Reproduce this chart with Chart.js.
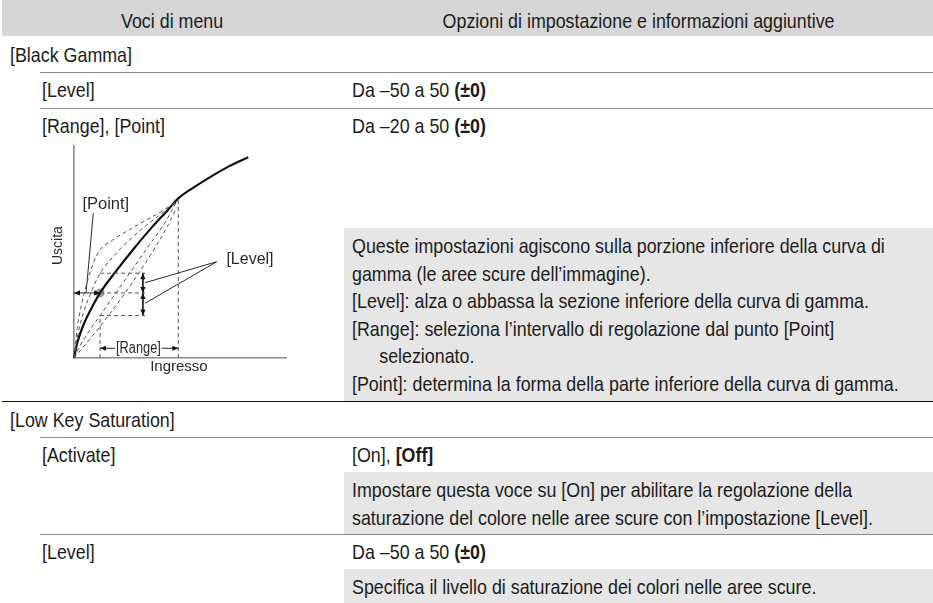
<!DOCTYPE html>
<html>
<head>
<meta charset="utf-8">
<script src="https://cdn.jsdelivr.net/npm/chart.js@4/dist/chart.umd.min.js"></script>
<style>
  html,body{margin:0;padding:0;background:#fff;}
  body{width:933px;height:603px;overflow:hidden;position:relative;
       font-family:"Liberation Sans",Arial,sans-serif;
       font-size:21px;color:#1c1c1c;}
  .t{position:absolute;white-space:nowrap;line-height:22px;transform:translateY(-50%);}
  .n{display:inline-block;transform:scaleX(0.85);transform-origin:0 50%;}
  .c .n{transform-origin:50% 50%;}
  .hdr{position:absolute;left:2px;top:0;width:931px;height:36px;background:#d6d6d6;}
  .ln{position:absolute;height:0;border-top:1.5px solid #8a8a8a;}
  .lnb{position:absolute;height:0;border-top:1.5px solid #111;}
  .box{position:absolute;background:#e6e6e6;box-sizing:border-box;padding:4px 0 0 8px;line-height:27.5px;white-space:nowrap;overflow:hidden;}
  .box .in{transform:scaleX(0.85);transform-origin:0 0;}
  b{font-weight:bold;}
  #dg{position:absolute;left:40px;top:130px;}
</style>
</head>
<body>
<div class="hdr"></div>
<div class="t c" style="left:0;width:344px;text-align:center;top:21px;"><span class="n">Voci di menu</span></div>
<div class="t c" style="left:344px;width:589px;text-align:center;top:21px;"><span class="n">Opzioni di impostazione e informazioni aggiuntive</span></div>

<div class="t" style="left:10px;top:55px;"><span class="n">[Black Gamma]</span></div>
<div class="ln" style="left:40px;width:893px;top:72px;"></div>
<div class="t" style="left:42px;top:90px;"><span class="n">[Level]</span></div>
<div class="t" style="left:352px;top:90px;"><span class="n">Da –50 a 50 <b>(±0)</b></span></div>
<div class="ln" style="left:40px;width:893px;top:108px;"></div>
<div class="t" style="left:42px;top:126px;"><span class="n">[Range], [Point]</span></div>
<div class="t" style="left:352px;top:126px;"><span class="n">Da –20 a 50 <b>(±0)</b></span></div>

<div class="box" style="left:344px;top:228px;width:589px;height:174px;"><div class="in">
Queste impostazioni agiscono sulla porzione inferiore della curva di<br>
gamma (le aree scure dell’immagine).<br>
[Level]: alza o abbassa la sezione inferiore della curva di gamma.<br>
[Range]: seleziona l’intervallo di regolazione dal punto [Point]<br>
<span style="padding-left:32px">selezionato.</span><br>
[Point]: determina la forma della parte inferiore della curva di gamma.
</div></div>
<div class="lnb" style="left:2px;width:931px;top:401px;"></div>

<div class="t" style="left:10px;top:420px;"><span class="n">[Low Key Saturation]</span></div>
<div class="ln" style="left:40px;width:893px;top:437px;"></div>
<div class="t" style="left:42px;top:455px;"><span class="n">[Activate]</span></div>
<div class="t" style="left:352px;top:455px;"><span class="n">[On], <b>[Off]</b></span></div>
<div class="box" style="left:344px;top:472px;width:589px;height:62px;"><div class="in">
Impostare questa voce su [On] per abilitare la regolazione della<br>
saturazione del colore nelle aree scure con l’impostazione [Level].
</div></div>
<div class="ln" style="left:40px;width:893px;top:534px;"></div>
<div class="t" style="left:42px;top:552px;"><span class="n">[Level]</span></div>
<div class="t" style="left:352px;top:552px;"><span class="n">Da –50 a 50 <b>(±0)</b></span></div>
<div class="box" style="left:344px;top:569px;width:589px;height:34px;"><div class="in">
Specifica il livello di saturazione dei colori nelle aree scure.
</div></div>

<canvas id="dg" width="270" height="260"></canvas>

<script>
// ---- diagram data (input 0..100 vs output 0..100) ----
const mainCurveX   = [0, 1.5, 4, 8, 12.3, 20, 28, 36, 44, 49.2, 57, 65, 73, 82.2];
const mainCurveY   = [0, 7, 14.5, 23, 30.7, 41.2, 51.3, 60.8, 69.5, 75.3, 80.8, 85.8, 90.4, 94.7];
const upperOuterX  = [0, 1.5, 3.5, 6.8, 9.1, 12.3, 18, 26, 34, 41, 47];
const upperOuterY  = [0, 14, 25, 37.7, 44.7, 51, 55.5, 60.5, 65, 69, 72.8];
const upperInnerX  = [0, 2, 5, 8.5, 12.3, 18, 26, 34, 42, 47.5];
const upperInnerY  = [0, 12, 23, 32, 40, 47.3, 55.5, 62.5, 68.7, 73.5];
const lowerInnerX  = [0, 3, 7, 12.3, 20, 28, 36, 43, 48.5];
const lowerInnerY  = [0, 6, 12.5, 20, 31, 42.5, 54, 64, 74];
const lowerOuterX  = [0, 12, 24, 36, 44, 48.5];
const lowerOuterY  = [0, 14.5, 30.5, 48.5, 62, 71];
// reference values
const pointIn = 12.3, pointOut = 30.7;      // [Point]
const levelUp = 40, levelDown = 20;          // [Level] range
const rangeEnd = 49.2, rangeEndOut = 75.3;   // end of [Range]
const levelMarkX = 33.5, levelArrowX = 32.5;
const rangeArrowY = 4.6, rangeArrowGapL = 19.3, rangeArrowGapR = 41.4;
const pointLeader = [[9.1, 68.3], [5.7, 30.8]];
const levelLeaderFrom = [67.3, 45.4], levelLeaderTo = [[33.5, 35.5], [33.5, 25.8]];

const labels = [
  {text:'[Point]',  x:15,   y:72.2, font:'16.5px "Liberation Sans", Arial, sans-serif', sx:1},
  {text:'[Level]',  x:83,   y:46.2, font:'16px "Liberation Sans", Arial, sans-serif', sx:1},
  {text:'Ingresso', x:49.5, y:-4.4, font:'15px "Liberation Sans", Arial, sans-serif', sx:1},
  {text:'Uscita',   x:-7.5, y:53,   font:'14px "Liberation Sans", Arial, sans-serif', sx:1, rotate:true},
  {text:'[Range]',  x:30.4, y:4.6,  font:'16px "Liberation Sans", Arial, sans-serif', sx:0.8}
];

const pts = (xs, ys) => xs.map((x, i) => ({x, y: ys[i]}));
const dashStyle = {borderColor:'#555', borderWidth:1, borderDash:[4,3], pointRadius:0, fill:false, clip:false};
const thin = {borderColor:'#111', borderWidth:0.9, pointRadius:0, fill:false, clip:false, tension:0};

const datasets = [
  Object.assign({data: pts(upperOuterX, upperOuterY), cubicInterpolationMode:'monotone'}, dashStyle),
  Object.assign({data: pts(upperInnerX, upperInnerY), cubicInterpolationMode:'monotone'}, dashStyle),
  Object.assign({data: pts(lowerInnerX, lowerInnerY), cubicInterpolationMode:'monotone'}, dashStyle),
  Object.assign({data: pts(lowerOuterX, lowerOuterY), cubicInterpolationMode:'monotone'}, dashStyle),
  // reference dashed guides
  Object.assign({data: [{x:rangeEnd,y:0},{x:rangeEnd,y:rangeEndOut}]}, dashStyle),
  Object.assign({data: [{x:pointIn,y:0},{x:pointIn,y:levelDown}]}, dashStyle),
  Object.assign({data: [{x:pointIn,y:levelUp},{x:levelMarkX,y:levelUp}]}, dashStyle),
  Object.assign({data: [{x:pointIn,y:pointOut},{x:levelMarkX,y:pointOut}]}, dashStyle),
  Object.assign({data: [{x:pointIn,y:levelDown},{x:levelMarkX,y:levelDown}]}, dashStyle),
  // main gamma curve
  {data: pts(mainCurveX, mainCurveY), borderColor:'#111', borderWidth:2.2, pointRadius:0, fill:false,
   cubicInterpolationMode:'monotone', clip:false},
  // point marker
  {data: [{x:pointIn, y:pointOut}], showLine:false, pointRadius:4.5, pointBackgroundColor:'#9a9a9a',
   pointBorderWidth:0, clip:false},
  // arrows
  Object.assign({data: [{x:0,y:pointOut},{x:pointIn,y:pointOut}], arrows:['start','end']}, thin),
  Object.assign({data: [{x:levelArrowX,y:levelUp},{x:levelArrowX,y:pointOut}], arrows:['start','end']}, thin),
  Object.assign({data: [{x:levelArrowX,y:pointOut},{x:levelArrowX,y:levelDown}], arrows:['start','end']}, thin),
  Object.assign({data: [{x:pointIn,y:rangeArrowY},{x:rangeArrowGapL,y:rangeArrowY}], arrows:['start']}, thin),
  Object.assign({data: [{x:rangeArrowGapR,y:rangeArrowY},{x:rangeEnd,y:rangeArrowY}], arrows:['end']}, thin),
  // leader lines
  Object.assign({data: pointLeader.map(p => ({x:p[0], y:p[1]}))}, thin),
  Object.assign({data: [{x:levelLeaderFrom[0],y:levelLeaderFrom[1]},{x:levelLeaderTo[0][0],y:levelLeaderTo[0][1]}]}, thin),
  Object.assign({data: [{x:levelLeaderFrom[0],y:levelLeaderFrom[1]},{x:levelLeaderTo[1][0],y:levelLeaderTo[1][1]}]}, thin)
];

const arrowPlugin = {
  id: 'arrows',
  afterDatasetsDraw(chart) {
    const ctx = chart.ctx;
    chart.data.datasets.forEach((ds, i) => {
      if (!ds.arrows) return;
      const els = chart.getDatasetMeta(i).data;
      const a = els[0], b = els[els.length - 1];
      const head = (tip, from) => {
        const ang = Math.atan2(tip.y - from.y, tip.x - from.x);
        const L = 6, W = 2.6;
        ctx.save();
        ctx.translate(tip.x, tip.y);
        ctx.rotate(ang);
        ctx.beginPath();
        ctx.moveTo(0, 0); ctx.lineTo(-L, -W); ctx.lineTo(-L, W); ctx.closePath();
        ctx.fillStyle = '#111'; ctx.fill();
        ctx.restore();
      };
      if (ds.arrows.includes('start')) head(a, b);
      if (ds.arrows.includes('end')) head(b, a);
    });
  },
  afterDraw(chart) {
    const ctx = chart.ctx, sx = chart.scales.x, sy = chart.scales.y;
    labels.forEach(l => {
      const px = sx.getPixelForValue(l.x), py = sy.getPixelForValue(l.y);
      ctx.save();
      ctx.font = l.font; ctx.fillStyle = '#2a2a2a';
      ctx.textAlign = 'center'; ctx.textBaseline = 'middle';
      ctx.translate(px, py);
      if (l.rotate) ctx.rotate(-Math.PI / 2);
      ctx.scale(l.sx, 1);
      ctx.fillText(l.text, 0, 0);
      ctx.restore();
    });
  }
};

new Chart(document.getElementById('dg'), {
  type: 'scatter',
  data: { datasets },
  options: {
    responsive: false, animation: false, devicePixelRatio: 1,
    showLine: true,
    layout: { padding: { left: 34, right: 24, top: 16, bottom: 32 } },
    plugins: { legend: { display: false }, tooltip: { enabled: false } },
    elements: { line: { borderCapStyle: 'butt' } },
    scales: {
      x: { type: 'linear', min: 0, max: 100, grid: { display: false, drawTicks: false },
           ticks: { display: false }, border: { display: true, color: '#8a8a8a', width: 1.6 } },
      y: { type: 'linear', min: 0, max: 100, grid: { display: false, drawTicks: false },
           ticks: { display: false }, border: { display: true, color: '#8a8a8a', width: 1.6 } }
    }
  },
  plugins: [arrowPlugin]
});
</script>
</body>
</html>
